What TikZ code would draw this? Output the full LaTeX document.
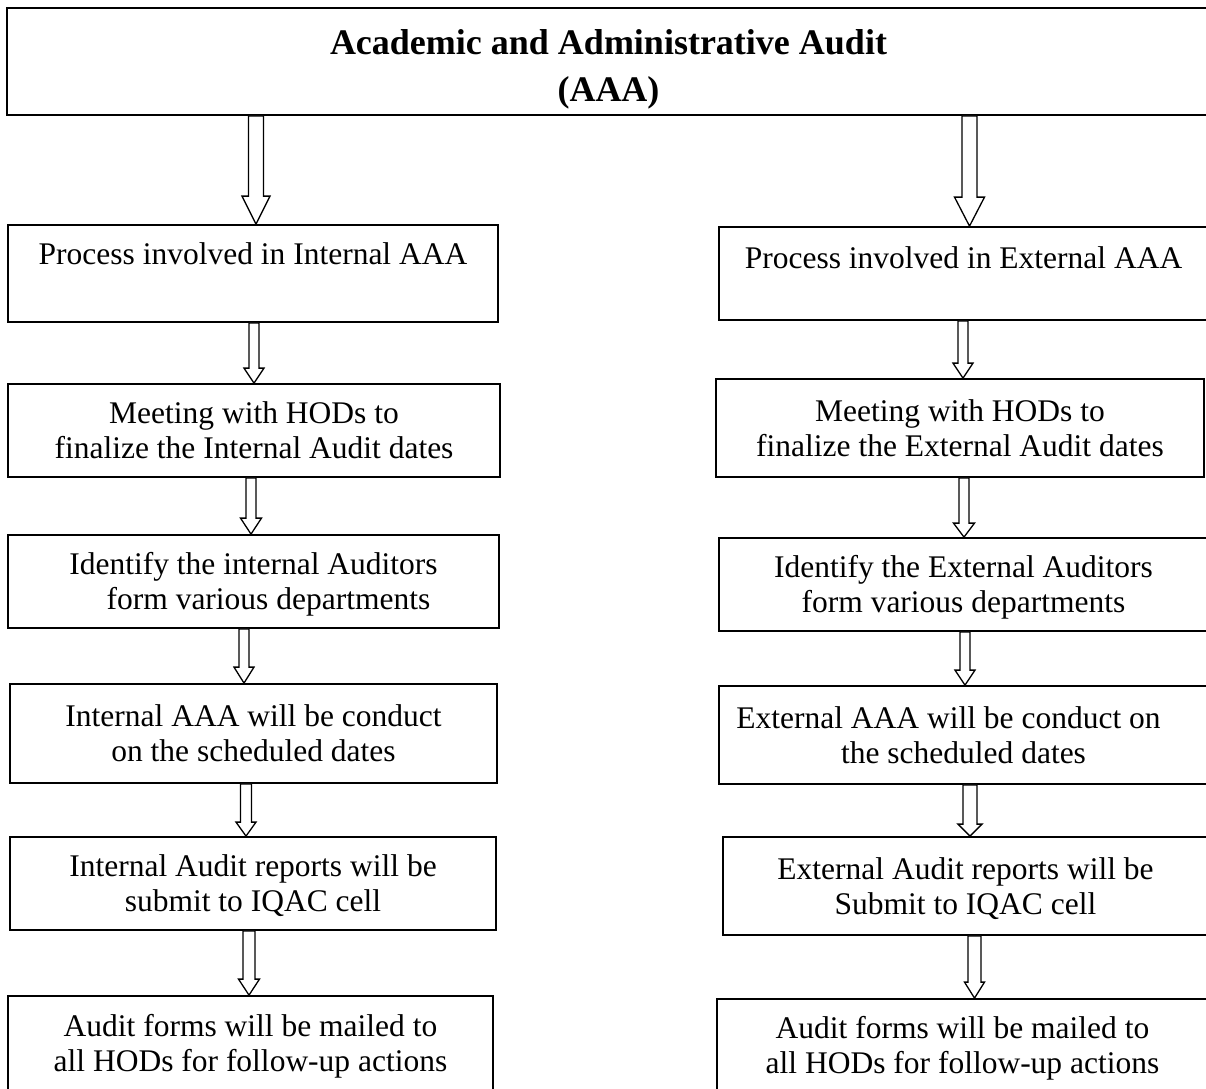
\documentclass[tikz,border=0pt]{standalone}
\usepackage{fontspec}
\setmainfont{Liberation Serif}
\usetikzlibrary{calc}
\newcommand{\mys}{\rule[-7pt]{0pt}{35pt}}
\newcommand{\tstr}{\rule[-4pt]{0pt}{44pt}}
\newcommand{\blockarrow}[5]{%
  \draw[barrow] ($(#1)+(-#3,0)$) -- ($(#2)+(-#3,-#5)$) -- ($(#2)+(-#4,-#5)$) -- (#2)
    -- ($(#2)+(#4,-#5)$) -- ($(#2)+(#3,-#5)$) -- ($(#1)+(#3,0)$) -- cycle;}
\tikzset{
  box/.style={draw, line width=1.8pt, inner sep=0pt, align=center, fill=white,
    font=\fontsize{31.5}{35}\selectfont},
  titlebox/.style={box, font=\fontsize{36}{47}\selectfont\bfseries},
  barrow/.style={draw, fill=white, line width=1.3pt, line join=miter}
}
\begin{document}
\begin{tikzpicture}[x=1pt,y=-1pt]
\useasboundingbox (0,0) rectangle (1206,1088);
\clip (0,0) rectangle (1206,1088);
\fill[white] (0,0) rectangle (1206,1088);
% title
\node[titlebox, minimum width=1203, minimum height=107] (top) at (608.5,61.5)
  {Academic and Administrative Audit\tstr\\(AAA)\tstr};
% left column
\node[box, minimum width=490, minimum height=97] (L1) at (253,273.5)
  {Process involved in Internal AAA\rule[-47pt]{0pt}{75pt}};
\node[box, minimum width=492, minimum height=93] (L2) at (254,430.5)
  {Meeting with HODs to\mys\\finalize the Internal Audit dates\mys};
\node[box, minimum width=491, minimum height=93] (L3) at (253.5,581.5)
  {Identify the internal Auditors\mys\\\hspace*{30pt}form various departments\mys};
\node[box, minimum width=487, minimum height=99] (L4) at (253.5,733.5)
  {Internal AAA will be conduct\mys\\on the scheduled dates\mys};
\node[box, minimum width=486, minimum height=93] (L5) at (253,883.5)
  {Internal Audit reports will be\mys\\submit to IQAC cell\mys};
\node[box, minimum width=485, minimum height=94] (L6) at (250.5,1043)
  {Audit forms will be mailed to\mys\\all HODs for follow-up actions\mys};
% right column
\node[box, minimum width=489, minimum height=93] (R1) at (963.5,273.5)
  {Process involved in External AAA\rule[-39pt]{0pt}{67pt}};
\node[box, minimum width=488, minimum height=98] (R2) at (960,428)
  {Meeting with HODs to\mys\\finalize the External Audit dates\mys};
\node[box, minimum width=489, minimum height=93] (R3) at (963.5,584.5)
  {Identify the External Auditors\mys\\form various departments\mys};
\node[box, minimum width=489, minimum height=98] (R4) at (963.5,735)
  {External AAA will be conduct on\hspace*{30pt}\mys\\the scheduled dates\mys};
\node[box, minimum width=485, minimum height=98] (R5) at (965.5,886)
  {External Audit reports will be\mys\\Submit to IQAC cell\mys};
\node[box, minimum width=491, minimum height=93] (R6) at (962.5,1045.5)
  {Audit forms will be mailed to\mys\\all HODs for follow-up actions\mys};
% arrow columns
\coordinate (xL1) at (256,0);
\coordinate (xR1) at (969.5,0);
\coordinate (xL2) at (254,0);
\coordinate (xR2) at (963,0);
\coordinate (xL3) at (251,0);
\coordinate (xR3) at (964,0);
\coordinate (xL4) at (244,0);
\coordinate (xR4) at (965,0);
\coordinate (xL5) at (246,0);
\coordinate (xR5) at (970,0);
\coordinate (xL6) at (249,0);
\coordinate (xR6) at (974.5,0);
% arrows
\blockarrow{top.south -| xL1}{L1.north -| xL1}{7.5}{14}{28}
\blockarrow{top.south -| xR1}{R1.north -| xR1}{7.5}{15}{29}
\blockarrow{L1.south -| xL2}{L2.north -| xL2}{5}{10}{15}
\blockarrow{R1.south -| xR2}{R2.north -| xR2}{5}{10}{15}
\blockarrow{L2.south -| xL3}{L3.north -| xL3}{5}{10.5}{16}
\blockarrow{R2.south -| xR3}{R3.north -| xR3}{5}{10.5}{14}
\blockarrow{L3.south -| xL4}{L4.north -| xL4}{5}{10}{16}
\blockarrow{R3.south -| xR4}{R4.north -| xR4}{5}{10}{15}
\blockarrow{L4.south -| xL5}{L5.north -| xL5}{5.5}{10}{14}
\blockarrow{R4.south -| xR5}{R5.north -| xR5}{7}{12}{12}
\blockarrow{L5.south -| xL6}{L6.north -| xL6}{6}{10.5}{16}
\blockarrow{R5.south -| xR6}{R6.north -| xR6}{6.5}{10}{16}
\end{tikzpicture}
\end{document}
